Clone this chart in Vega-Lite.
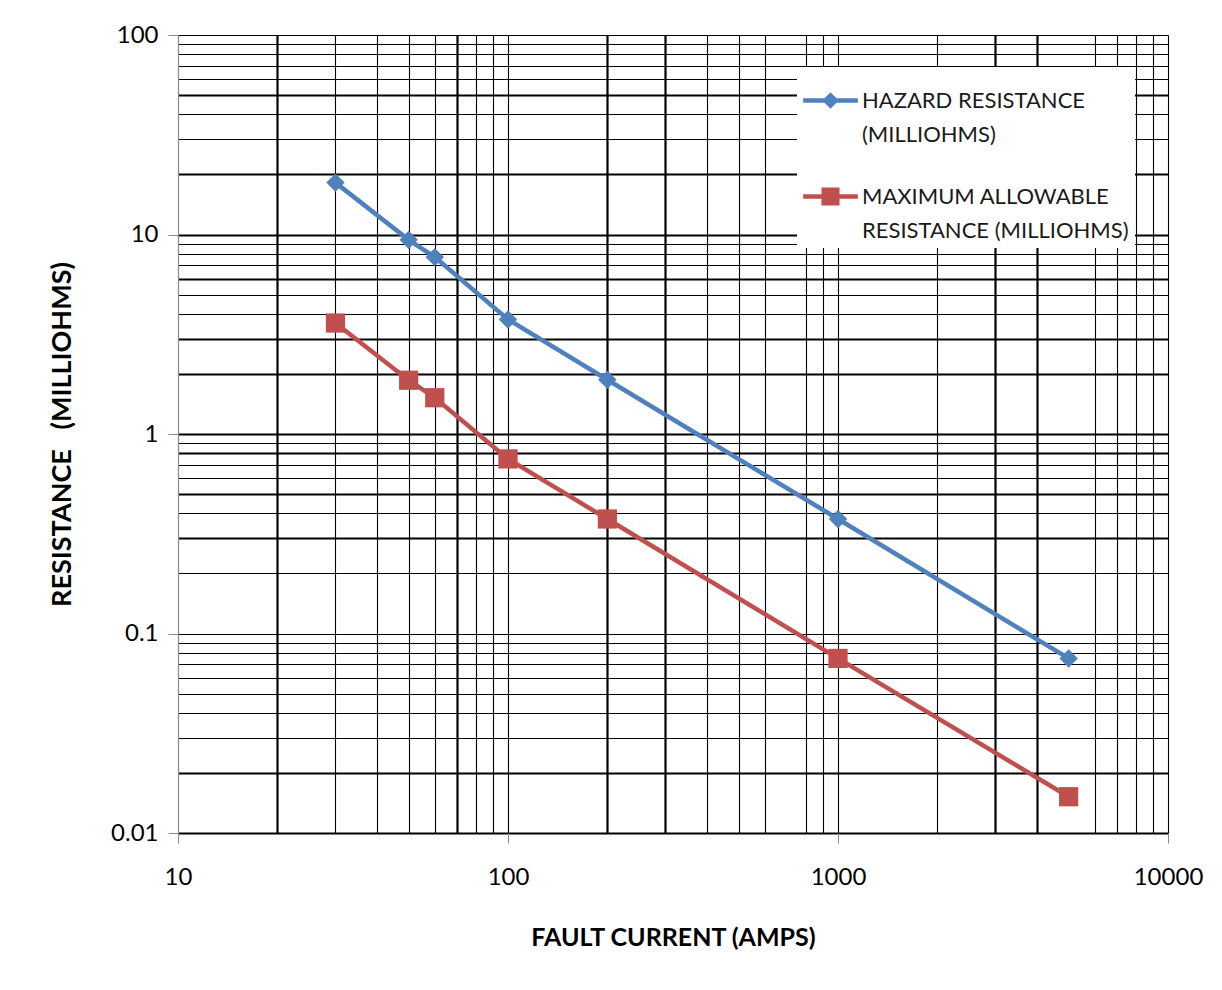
{
  "$schema": "https://vega.github.io/schema/vega-lite/v6.json",
  "width": 990,
  "height": 798,
  "autosize": {"type": "none"},
  "padding": {"left": 178, "top": 35, "right": 54, "bottom": 157},
  "background": "white",
  "config": {"view": {"stroke": null}, "font": "Lato"},
  "data": {
    "values": [
      {"current": 30, "resistance": 18.2, "series": "HAZARD RESISTANCE (MILLIOHMS)"},
      {"current": 50, "resistance": 9.4, "series": "HAZARD RESISTANCE (MILLIOHMS)"},
      {"current": 60, "resistance": 7.7, "series": "HAZARD RESISTANCE (MILLIOHMS)"},
      {"current": 100, "resistance": 3.75, "series": "HAZARD RESISTANCE (MILLIOHMS)"},
      {"current": 200, "resistance": 1.87, "series": "HAZARD RESISTANCE (MILLIOHMS)"},
      {"current": 1000, "resistance": 0.375, "series": "HAZARD RESISTANCE (MILLIOHMS)"},
      {"current": 5000, "resistance": 0.075, "series": "HAZARD RESISTANCE (MILLIOHMS)"},
      {"current": 30, "resistance": 3.6, "series": "MAXIMUM ALLOWABLE RESISTANCE (MILLIOHMS)"},
      {"current": 50, "resistance": 1.86, "series": "MAXIMUM ALLOWABLE RESISTANCE (MILLIOHMS)"},
      {"current": 60, "resistance": 1.52, "series": "MAXIMUM ALLOWABLE RESISTANCE (MILLIOHMS)"},
      {"current": 100, "resistance": 0.75, "series": "MAXIMUM ALLOWABLE RESISTANCE (MILLIOHMS)"},
      {"current": 200, "resistance": 0.375, "series": "MAXIMUM ALLOWABLE RESISTANCE (MILLIOHMS)"},
      {"current": 1000, "resistance": 0.075, "series": "MAXIMUM ALLOWABLE RESISTANCE (MILLIOHMS)"},
      {"current": 5000, "resistance": 0.0152, "series": "MAXIMUM ALLOWABLE RESISTANCE (MILLIOHMS)"}
    ]
  },
  "encoding": {
    "x": {
      "field": "current",
      "type": "quantitative",
      "scale": {"type": "log", "domain": [10, 10000], "nice": false},
      "title": "FAULT CURRENT (AMPS)",
      "axis": {
        "values": [10, 20, 30, 40, 50, 60, 70, 80, 90, 100, 200, 300, 400, 500, 600, 800, 900, 1000, 2000, 3000, 4000, 6000, 7000, 8000, 9000, 10000],
        "format": "d",
        "labelExpr": "indexof([10,100,1000,10000], datum.value) >= 0 ? datum.label : ''",
        "labelFlush": false,
        "labelOverlap": false,
        "labelFont": "Lato",
        "labelFontSize": 24,
        "labelColor": "#000000",
        "labelPadding": 22,
        "grid": true,
        "gridColor": {"condition": {"test": "datum.value == 10", "value": "transparent"}, "value": "#000000"},
        "gridWidth": {"condition": {"test": "indexof([20,70,200,300,3000,4000], datum.value) >= 0", "value": 2.2}, "value": 1.1},
        "gridOpacity": 1,
        "tickColor": {"condition": {"test": "indexof([10,100,1000,10000], datum.value) >= 0", "value": "#888888"}, "value": "transparent"},
        "tickSize": 10,
        "tickWidth": 1,
        "domain": false,
        "titleFont": "Lato",
        "titleFontSize": 25,
        "titleFontWeight": "bold",
        "titleColor": "#000000",
        "titlePadding": 36
      }
    },
    "y": {
      "field": "resistance",
      "type": "quantitative",
      "scale": {"type": "log", "domain": [0.01, 100], "nice": false},
      "title": "RESISTANCE \u00a0\u00a0(MILLIOHMS)",
      "axis": {
        "values": [0.01, 0.02, 0.03, 0.04, 0.05, 0.06, 0.07, 0.08, 0.09, 0.1, 0.2, 0.3, 0.4, 0.5, 0.6, 0.7, 0.8, 0.9, 1, 2, 3, 4, 5, 6, 7, 8, 9, 10, 20, 30, 40, 50, 60, 70, 80, 90, 100],
        "format": "~g",
        "labelExpr": "indexof([0.01,0.1,1,10,100], datum.value) >= 0 ? datum.label : ''",
        "labelFlush": false,
        "labelOverlap": false,
        "labelFont": "Lato",
        "labelFontSize": 24,
        "labelColor": "#000000",
        "labelPadding": 10,
        "grid": true,
        "gridColor": "#000000",
        "gridWidth": {"condition": {"test": "indexof([50,20,10,6,3,2,1,0.8,0.5,0.3,0.02,0.01], datum.value) >= 0", "value": 2.2}, "value": 1.1},
        "gridOpacity": 1,
        "tickColor": {"condition": {"test": "indexof([0.01,0.1,1,10,100], datum.value) >= 0", "value": "#888888"}, "value": "transparent"},
        "tickSize": 10,
        "tickWidth": 1,
        "domain": true,
        "domainColor": "#888888",
        "domainWidth": 1.2,
        "titleFont": "Lato",
        "titleFontSize": 27,
        "titleFontWeight": "bold",
        "titleColor": "#000000",
        "titlePadding": 34
      }
    },
    "color": {
      "field": "series",
      "type": "nominal",
      "scale": {"domain": ["HAZARD RESISTANCE (MILLIOHMS)", "MAXIMUM ALLOWABLE RESISTANCE (MILLIOHMS)"], "range": ["#4F81BD", "#C0504D"]},
      "legend": {
        "orient": "none",
        "legendX": 619,
        "legendY": 32,
        "title": null,
        "fillColor": "white",
        "strokeColor": null,
        "padding": 6,
        "symbolSize": 3000,
        "labelFont": "Lato",
        "labelFontSize": 22,
        "labelColor": "#1a1a1a",
        "labelOffset": 4,
        "labelLimit": 400,
        "labelBaseline": "middle",
        "rowPadding": 23,
        "labelExpr": "datum.value == 'HAZARD RESISTANCE (MILLIOHMS)' ? ['HAZARD RESISTANCE', '(MILLIOHMS)'] : ['MAXIMUM ALLOWABLE', 'RESISTANCE (MILLIOHMS)']",
        "encode": {
          "symbols": {
            "update": {
              "shape": {"signal": "datum.value == 'HAZARD RESISTANCE (MILLIOHMS)' ? 'M-1,-0.08H1V0.08H-1Z M0,-0.3L0.3,0L0,0.3L-0.3,0Z' : 'M-1,-0.08H1V0.08H-1Z M-0.33,-0.33H0.33V0.33H-0.33Z'"},
              "size": {"value": 3000},
              "strokeWidth": {"value": 0},
              "opacity": {"value": 1},
              "fillOpacity": {"value": 1}
            }
          },
          "labels": {
            "update": {
              "lineHeight": {"value": 34}
            }
          }
        }
      }
    }
  },
  "layer": [
    {
      "mark": {"type": "line", "strokeWidth": 4.5}
    },
    {
      "transform": [{"filter": "datum.series == 'HAZARD RESISTANCE (MILLIOHMS)'"}],
      "mark": {"type": "point", "shape": "diamond", "size": 340, "filled": true, "opacity": 1}
    },
    {
      "transform": [{"filter": "datum.series == 'MAXIMUM ALLOWABLE RESISTANCE (MILLIOHMS)'"}],
      "mark": {"type": "point", "shape": "square", "size": 370, "filled": true, "opacity": 1}
    }
  ]
}
